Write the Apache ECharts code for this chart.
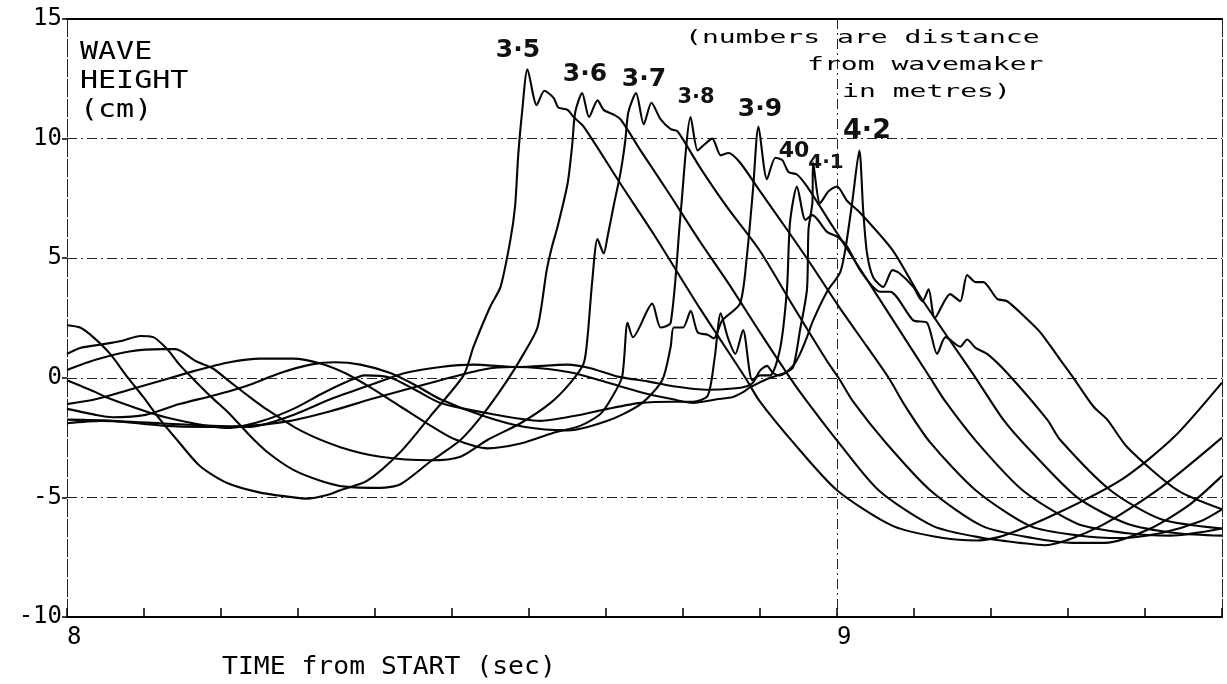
<!DOCTYPE html>
<html>
<head>
<meta charset="utf-8">
<title>Wave height records</title>
<script src="https://cdn.jsdelivr.net/npm/echarts@6/dist/echarts.min.js"></script>
<style>
  html, body { margin: 0; padding: 0; background: #fff; }
  #chart { width: 1227px; height: 684px; }
</style>
</head>
<body>
<div id="chart"></div>
<script>
// Wave gauge records: [time (s), surface elevation (cm)], one array per gauge.
// Gauge name = distance from the wavemaker in metres.
const gauge35 = [[8.000,2.2],[8.017,2.1],[8.034,1.7],[8.056,1.0],[8.078,0.05],[8.099,-0.8],[8.121,-1.75],[8.143,-2.6],[8.173,-3.7],[8.208,-4.4],[8.251,-4.8],[8.294,-5.0],[8.312,-5.05],[8.338,-4.9],[8.355,-4.7],[8.390,-4.3],[8.433,-3.1],[8.472,-1.6],[8.515,0.1],[8.528,1.3],[8.550,3.0],[8.563,3.8],[8.576,5.8],[8.582,7.2],[8.586,9.3],[8.591,11.1],[8.598,12.9],[8.610,11.4],[8.620,12.0],[8.632,11.7],[8.638,11.3],[8.650,11.2],[8.658,10.9],[8.671,10.5],[8.719,8.1],[8.762,6.0],[8.822,2.9],[8.881,0],[8.900,-1.0],[8.943,-2.7],[9.000,-4.7],[9.073,-6.2],[9.138,-6.7],[9.182,-6.8],[9.216,-6.6],[9.290,-5.6],[9.372,-4.2],[9.437,-2.5],[9.500,-0.2]];

const gauge36 = [[8.000,1.0],[8.017,1.25],[8.046,1.4],[8.072,1.55],[8.095,1.75],[8.112,1.7],[8.130,1.2],[8.146,0.55],[8.167,-0.15],[8.189,-0.85],[8.211,-1.5],[8.237,-2.4],[8.260,-3.1],[8.294,-3.85],[8.329,-4.3],[8.361,-4.55],[8.407,-4.6],[8.433,-4.45],[8.472,-3.5],[8.511,-2.6],[8.541,-1.5],[8.572,-0.1],[8.593,1.0],[8.611,2.1],[8.623,4.5],[8.630,5.5],[8.637,6.3],[8.650,8.1],[8.656,9.7],[8.660,11.1],[8.669,11.9],[8.678,10.9],[8.689,11.6],[8.697,11.2],[8.710,11.0],[8.719,10.8],[8.745,9.5],[8.780,7.8],[8.822,5.7],[8.858,4.0],[8.900,1.9],[8.939,0],[8.959,-0.9],[9.002,-2.7],[9.054,-4.7],[9.125,-6.2],[9.190,-6.7],[9.238,-6.9],[9.270,-7.0],[9.342,-6.2],[9.420,-4.6],[9.500,-2.5]];

const gauge37 = [[8.000,0.33],[8.037,0.75],[8.081,1.1],[8.124,1.2],[8.141,1.2],[8.167,0.7],[8.189,0.4],[8.211,-0.15],[8.237,-0.8],[8.254,-1.2],[8.303,-2.2],[8.355,-2.9],[8.407,-3.3],[8.472,-3.45],[8.511,-3.3],[8.546,-2.6],[8.589,-1.9],[8.628,-1.05],[8.654,-0.2],[8.671,0.6],[8.676,1.7],[8.682,4.0],[8.689,5.8],[8.697,5.2],[8.702,5.9],[8.710,7.2],[8.719,8.6],[8.725,9.9],[8.729,11.1],[8.739,11.9],[8.749,10.6],[8.759,11.5],[8.771,10.8],[8.784,10.4],[8.793,10.3],[8.822,8.8],[8.858,7.1],[8.900,5.3],[8.943,3.0],[8.987,0.7],[9.002,0],[9.021,-1.0],[9.063,-2.7],[9.121,-4.7],[9.189,-6.2],[9.254,-6.7],[9.306,-6.9],[9.348,-6.9],[9.407,-6.3],[9.458,-5.3],[9.500,-4.1]];

const gauge38 = [[8.000,-1.1],[8.037,-0.9],[8.081,-0.5],[8.124,-0.1],[8.167,0.3],[8.211,0.65],[8.251,0.8],[8.294,0.8],[8.329,0.6],[8.361,0.2],[8.394,-0.4],[8.433,-1.2],[8.472,-2.0],[8.502,-2.55],[8.546,-2.95],[8.589,-2.75],[8.632,-2.3],[8.667,-2.0],[8.693,-1.5],[8.708,-0.8],[8.721,0.05],[8.728,2.3],[8.735,1.7],[8.760,3.1],[8.771,2.1],[8.784,2.3],[8.797,6.9],[8.810,10.9],[8.819,9.5],[8.826,9.7],[8.838,10.0],[8.849,9.3],[8.859,9.4],[8.874,9.0],[8.900,7.8],[8.935,6.2],[8.965,4.8],[9.004,2.9],[9.039,1.3],[9.067,0],[9.089,-1.2],[9.121,-2.7],[9.180,-4.7],[9.251,-6.2],[9.316,-6.6],[9.368,-6.7],[9.420,-6.5],[9.472,-6.0],[9.500,-5.5]];

const gauge39 = [[8.000,-1.3],[8.037,-1.55],[8.059,-1.65],[8.102,-1.55],[8.146,-1.1],[8.189,-0.75],[8.232,-0.35],[8.277,0.2],[8.316,0.55],[8.348,0.65],[8.381,0.55],[8.420,0.2],[8.452,-0.3],[8.485,-0.9],[8.541,-1.6],[8.593,-2.05],[8.650,-2.2],[8.702,-1.8],[8.745,-1.1],[8.773,-0.1],[8.784,1.3],[8.788,2.1],[8.800,2.1],[8.810,2.8],[8.819,1.9],[8.832,1.8],[8.840,1.65],[8.851,2.4],[8.874,3.1],[8.883,5.1],[8.891,7.9],[8.898,10.5],[8.909,8.3],[8.920,9.2],[8.929,9.1],[8.937,8.6],[8.948,8.5],[8.961,8.0],[8.991,6.5],[9.030,4.55],[9.073,2.4],[9.121,0],[9.141,-1.0],[9.182,-2.7],[9.241,-4.7],[9.312,-6.1],[9.377,-6.5],[9.433,-6.6],[9.500,-6.3]];

const gauge40 = [[8.000,-0.1],[8.037,-0.6],[8.050,-0.8],[8.102,-1.4],[8.128,-1.65],[8.180,-2.0],[8.212,-2.1],[8.254,-1.8],[8.294,-1.3],[8.329,-0.7],[8.361,-0.2],[8.387,0.1],[8.420,0.0],[8.452,-0.5],[8.485,-1.05],[8.550,-1.5],[8.615,-1.8],[8.658,-1.6],[8.702,-1.3],[8.745,-1.05],[8.787,-1.0],[8.813,-1.0],[8.832,-0.75],[8.841,0.8],[8.849,2.7],[8.858,1.7],[8.868,1.0],[8.878,2.0],[8.890,-0.1],[8.900,0.1],[8.913,0.1],[8.926,1.2],[8.935,3.7],[8.939,6.5],[8.948,8.0],[8.959,6.6],[8.968,6.8],[8.987,6.1],[9.000,5.9],[9.013,5.5],[9.030,4.5],[9.056,3.6],[9.069,3.6],[9.099,2.4],[9.117,2.3],[9.130,1.0],[9.141,1.7],[9.160,1.3],[9.169,1.6],[9.180,1.25],[9.195,1.0],[9.221,0.2],[9.273,-1.75],[9.290,-2.6],[9.355,-4.7],[9.420,-5.9],[9.500,-6.3]];

const gauge41 = [[8.000,-1.75],[8.059,-1.8],[8.124,-2.0],[8.180,-2.05],[8.238,-2.0],[8.290,-1.8],[8.342,-1.4],[8.394,-0.9],[8.439,-0.5],[8.485,-0.1],[8.541,0.35],[8.580,0.45],[8.615,0.4],[8.658,0.2],[8.702,-0.2],[8.745,-0.6],[8.787,-0.9],[8.813,-1.05],[8.844,-0.9],[8.865,-0.8],[8.878,-0.6],[8.887,-0.4],[8.913,0.0],[8.932,0.2],[8.943,0.45],[8.952,2.0],[8.961,3.7],[8.963,6.2],[8.968,7.3],[8.969,9.0],[8.978,7.3],[8.989,7.8],[9.000,8.0],[9.013,7.4],[9.030,6.9],[9.073,5.3],[9.108,3.4],[9.180,0],[9.216,-1.75],[9.247,-2.9],[9.312,-5.0],[9.377,-6.1],[9.442,-6.5],[9.500,-6.6]];

const gauge42 = [[8.000,-1.9],[8.043,-1.8],[8.121,-1.9],[8.180,-2.0],[8.238,-2.05],[8.290,-1.6],[8.342,-0.9],[8.394,-0.3],[8.439,0.2],[8.485,0.45],[8.528,0.55],[8.585,0.45],[8.650,0.55],[8.680,0.4],[8.715,0.05],[8.754,-0.15],[8.787,-0.35],[8.832,-0.5],[8.865,-0.45],[8.883,-0.35],[8.891,-0.2],[8.900,0.3],[8.909,0.5],[8.917,0.2],[8.926,0.1],[8.943,0.5],[8.952,1.0],[8.961,1.7],[8.969,2.4],[8.987,3.6],[9.004,4.4],[9.011,5.4],[9.020,7.4],[9.029,9.5],[9.034,7.0],[9.039,5.2],[9.047,4.2],[9.060,3.8],[9.072,4.5],[9.080,4.4],[9.099,3.8],[9.111,3.2],[9.119,3.7],[9.127,2.5],[9.147,3.5],[9.160,3.2],[9.169,4.3],[9.180,4.0],[9.190,4.0],[9.208,3.3],[9.221,3.2],[9.242,2.6],[9.264,1.9],[9.290,0.75],[9.307,0],[9.333,-1.2],[9.351,-1.75],[9.377,-2.9],[9.442,-4.7],[9.500,-5.5]];

const gauges = [gauge35, gauge36, gauge37, gauge38, gauge39, gauge40, gauge41, gauge42];
const gaugeNames = ['3.5', '3.6', '3.7', '3.8', '3.9', '4.0', '4.1', '4.2'];

// Axis ranges and tick steps
const timeRange = [8, 9.5];
const heightRange = [-10, 15];
const heightStep = 5;

// Hand-written crest tags (text, pixel centre, size)
const crestTags = [
  { text: '3·5', x: 518, y: 50, size: 25 },
  { text: '3·6', x: 585, y: 74, size: 25 },
  { text: '3·7', x: 644, y: 79, size: 25 },
  { text: '3·8', x: 696, y: 98, size: 21 },
  { text: '3·9', x: 760, y: 109, size: 25 },
  { text: '40',  x: 794, y: 151, size: 22 },
  { text: '4·1', x: 826, y: 163, size: 20 },
  { text: '4·2', x: 867, y: 131, size: 27 }
];

const MONO = '"DejaVu Sans Mono", "Liberation Mono", monospace';
const HAND = '"DejaVu Sans", "Liberation Sans", sans-serif';
const DASH = [10, 4, 2, 4];

const chart = echarts.init(document.getElementById('chart'), null, { renderer: 'canvas' });

function plotterText(text, x, y, size, sx) {
  return {
    type: 'text', x: x, y: y, scaleX: sx, silent: true,
    style: {
      text: text, fill: '#000',
      font: size + 'px ' + MONO,
      textAlign: 'left', align: 'left',
      textVerticalAlign: 'middle', verticalAlign: 'middle'
    }
  };
}

const graphics = [
  plotterText('WAVE', 80, 53, 24, 1.25),
  plotterText('HEIGHT', 80, 82, 24, 1.25),
  plotterText('(cm)', 80, 111, 24, 1.25),
  plotterText('(numbers are distance', 685, 39, 17, 1.65),
  plotterText('from wavemaker', 807, 66, 17, 1.65),
  plotterText('in metres)', 842, 93, 17, 1.65),
  plotterText('TIME from START (sec)', 222, 668, 24, 1.1)
];
crestTags.forEach(function (t) {
  graphics.push({
    type: 'text', x: t.x, y: t.y, silent: true,
    style: {
      text: t.text, fill: '#111',
      font: 'bold ' + t.size + 'px ' + HAND,
      textAlign: 'center', align: 'center',
      textVerticalAlign: 'middle', verticalAlign: 'middle'
    }
  });
});

const option = {
  animation: false,
  backgroundColor: '#fff',
  grid: { left: 67, right: 5, top: 19, bottom: 67, containLabel: false },
  xAxis: [
    {
      type: 'value', position: 'bottom',
      min: timeRange[0], max: timeRange[1], interval: 0.1,
      axisLine: { show: true, onZero: false, lineStyle: { color: '#000', width: 2 } },
      axisTick: { show: true, inside: true, length: 9, lineStyle: { color: '#000', width: 1.5 } },
      axisLabel: {
        color: '#000', fontFamily: MONO, fontSize: 24, align: 'left', margin: 9,
        formatter: function (v) {
          return Math.abs(v - Math.round(v)) < 1e-6 ? String(Math.round(v)) : '';
        }
      },
      splitLine: { show: false }
    },
    {
      type: 'value', position: 'top',
      min: timeRange[0], max: timeRange[1], interval: 1,
      axisLine: { show: true, onZero: false, lineStyle: { color: '#000', width: 2 } },
      axisTick: { show: false },
      axisLabel: { show: false },
      splitLine: { show: true, lineStyle: { color: '#222', width: 1, type: DASH } }
    }
  ],
  yAxis: [
    {
      type: 'value', position: 'left',
      min: heightRange[0], max: heightRange[1], interval: heightStep,
      axisLine: { show: true, onZero: false, lineStyle: { color: '#222', width: 1, type: DASH } },
      axisTick: { show: true, length: 5, lineStyle: { color: '#000', width: 1.5 } },
      axisLabel: { color: '#000', fontFamily: MONO, fontSize: 24, margin: 5 },
      splitLine: { show: true, lineStyle: { color: '#222', width: 1, type: DASH } }
    },
    {
      type: 'value', position: 'right',
      min: heightRange[0], max: heightRange[1], interval: heightStep,
      axisLine: { show: true, onZero: false, lineStyle: { color: '#222', width: 1, type: DASH } },
      axisTick: { show: false },
      axisLabel: { show: false },
      splitLine: { show: false }
    }
  ],
  series: gauges.map(function (d, i) {
    return {
      name: gaugeNames[i],
      type: 'line',
      xAxisIndex: 0, yAxisIndex: 0,
      data: d,
      showSymbol: false, symbol: 'none',
      smooth: 0.25,
      lineStyle: { color: '#050505', width: 2.1 },
      silent: true,
      z: 3
    };
  }),
  graphic: graphics
};

chart.setOption(option);
</script>
</body>
</html>
